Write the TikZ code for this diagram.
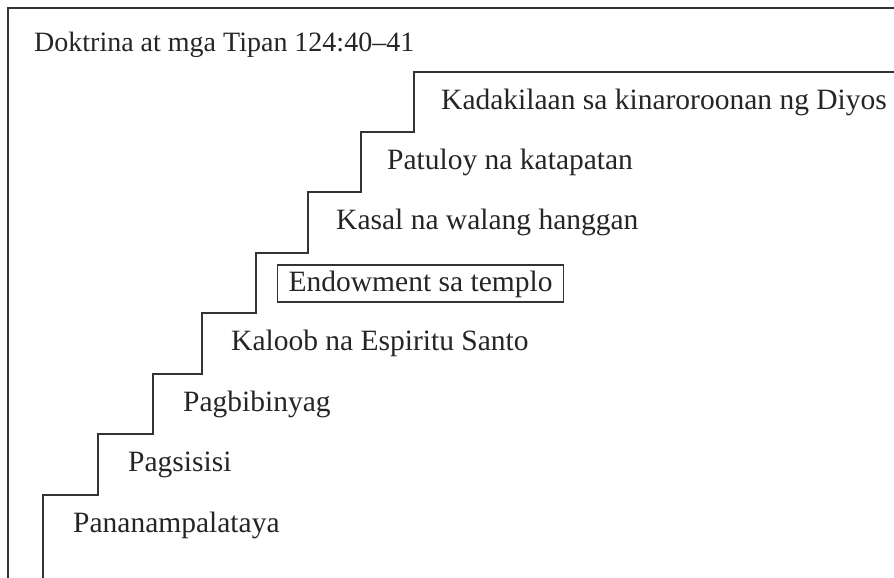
\documentclass[tikz,border=0pt]{standalone}
\usepackage{fontspec}
\setmainfont{Liberation Serif}
\definecolor{ink}{HTML}{252525}
\definecolor{linec}{HTML}{333333}
\tikzset{
  lbl/.style={anchor=base west, inner sep=0pt, text=ink, font=\fontsize{29.5}{33}\selectfont},
  stair/.style={draw=linec, line width=1.3pt},
  framel/.style={draw=linec, line width=1.8pt},
}
\begin{document}
\begin{tikzpicture}[x=1pt,y=-1pt]
\useasboundingbox (0,0) rectangle (894,578);
% frame (top and left)
\draw[framel] (894,8) -- (8,8) -- (8,578);
% staircase
\draw[stair] (43,578) -- (43,495) -- (98,495) -- (98,434) -- (153,434) -- (153,374)
  -- (202,374) -- (202,313) -- (256,313) -- (256,253) -- (308,253) -- (308,192)
  -- (361,192) -- (361,132) -- (414,132) -- (414,72) -- (894,72);
% title
\node[lbl, font=\fontsize{28}{32}\selectfont] (title) at (34,52) {Doktrina at mga Tipan 124:40–41};
% steps
\node[lbl] (s1) at (73,532) {Pananampalataya};
\node[lbl] (s2) at (128,471) {Pagsisisi};
\node[lbl] (s3) at (183,411) {Pagbibinyag};
\node[lbl] (s4) at (231,350) {Kaloob na Espiritu Santo};
\node[lbl, draw=linec, line width=1.3pt, inner xsep=11pt, inner ysep=0pt, text height=26pt, text depth=11pt] (s5) at (277,291) {Endowment sa templo};
\node[lbl] (s6) at (336,229) {Kasal na walang hanggan};
\node[lbl] (s7) at (387,169) {Patuloy na katapatan};
\node[lbl] (s8) at (441,109) {Kadakilaan sa kinaroroonan ng Diyos};
\end{tikzpicture}
\end{document}
